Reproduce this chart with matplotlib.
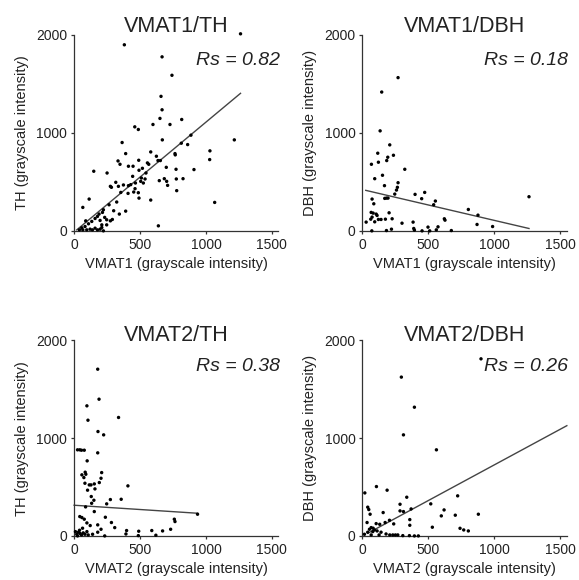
import matplotlib
matplotlib.use("Agg")
import matplotlib.pyplot as plt

plt.rcParams['font.family'] = ['Liberation Sans', 'DejaVu Sans']

# VMAT1 vs TH
vmat1_th_x = [1262, 381, 667, 742, 659, 667, 651, 816, 460, 487, 598, 727, 1215, 669, 886,
              364, 861, 813, 391, 581, 1030, 1028, 765, 767, 333, 348, 490, 624, 636, 654,
              556, 566, 447, 412, 518, 699, 773, 909, 149, 250, 444, 316, 275, 283, 336,
              374, 412, 429, 465, 505, 525, 538, 545, 510, 492, 646, 684, 702, 709, 775,
              826, 778, 581, 1066, 639, 409, 452, 462, 487, 492, 354, 323, 391, 343, 300,
              265, 114, 66, 222, 215, 189, 177, 232, 247, 275, 290, 197, 159, 134, 109,
              88, 83, 58, 40, 121, 139, 159, 177, 197, 210, 222, 96, 247, 210, 66]
vmat1_th_y = [2010, 1898, 1775, 1587, 1372, 1235, 1147, 1136, 1061, 1034, 1085, 1085, 928, 928, 976,
              901, 880, 894, 788, 805, 816, 727, 788, 775, 713, 679, 720, 761, 717, 717,
              693, 679, 659, 659, 638, 648, 628, 625, 608, 590, 556, 495, 454, 444, 454,
              468, 461, 471, 488, 505, 488, 529, 590, 539, 618, 512, 532, 505, 464, 529,
              532, 410, 314, 290, 51, 382, 396, 430, 389, 334, 392, 294, 201, 171, 205,
              266, 324, 239, 215, 188, 171, 147, 137, 113, 102, 116, 106, 126, 96, 72,
              102, 44, 31, 10, 17, 10, 27, 10, 17, 34, 0, 10, 61, 61, 10]
vmat1_th_fit_x = [20, 1262]
vmat1_th_fit_y = [10, 1403]

# VMAT1 vs DBH
vmat1_dbh_x = [270, 146, 134, 207, 116, 235, 192, 184, 121, 68, 321, 152, 93, 167, 270,
               265, 258, 245, 399, 472, 449, 553, 540, 182, 169, 194, 73, 86, 803, 876,
               1263, 621, 626, 869, 987, 66, 81, 104, 111, 73, 63, 93, 121, 141, 174,
               202, 225, 28, 300, 384, 389, 394, 452, 497, 510, 560, 573, 674, 71, 182, 220]
vmat1_dbh_y = [1563, 1416, 1020, 877, 792, 771, 751, 717, 700, 679, 628, 567, 532, 461, 491,
               444, 416, 375, 372, 392, 328, 304, 266, 334, 331, 334, 324, 276, 218, 160,
               348, 123, 109, 65, 44, 188, 181, 171, 157, 140, 119, 92, 116, 116, 119,
               184, 123, 89, 78, 89, 24, 7, 0, 38, 0, 10, 41, 3, 0, 3, 17]
vmat1_dbh_fit_x = [25, 1263]
vmat1_dbh_fit_y = [413, 24]

# VMAT2 vs TH
vmat2_th_x = [179, 189, 97, 105, 337, 181, 224, 179, 26, 43, 56, 77, 99, 59, 84,
              89, 74, 209, 204, 191, 153, 115, 128, 82, 102, 158, 130, 150, 275, 357,
              247, 133, 408, 87, 153, 936, 760, 765, 43, 59, 77, 237, 283, 308, 179,
              204, 122, 97, 398, 393, 490, 487, 589, 620, 671, 732, 232, 179,
              20, 33, 46, 56, 69, 82, 41, 64, 97, 26, 107, 140, 10]
vmat2_th_y = [1706, 1399, 1331, 1184, 1212, 1068, 1034, 850, 881, 881, 877, 877, 768, 625, 652,
              631, 597, 648, 590, 546, 532, 522, 522, 539, 468, 481, 403, 365, 372, 375,
              328, 334, 512, 297, 249, 222, 171, 147, 198, 188, 171, 191, 137, 85, 113,
              68, 106, 133, 55, 20, 48, 3, 55, 7, 51, 68, 0, 38,
              17, 38, 24, 10, 31, 17, 58, 79, 44, 0, 10, 17, 44]
vmat2_th_fit_x = [0, 936]
vmat2_th_fit_y = [314, 232]

# VMAT2 vs DBH
vmat2_dbh_x = [899, 295, 394, 311, 561, 106, 187, 18, 722, 336, 518, 285, 40, 48, 58,
               157, 285, 311, 369, 619, 598, 704, 879, 359, 359, 530, 740, 768, 803, 205,
               237, 172, 131, 104, 35, 66, 53, 81, 91, 111, 78, 141, 40, 15, 179,
               207, 230, 250, 268, 306, 356, 394, 424, 126, 66]
vmat2_dbh_y = [1812, 1625, 1317, 1034, 881, 505, 468, 440, 410, 396, 328, 324, 294, 270, 222,
               239, 256, 249, 276, 266, 205, 212, 222, 167, 109, 89, 78, 61, 51, 160,
               123, 137, 119, 126, 137, 85, 68, 79, 61, 51, 44, 38, 38, 17, 20,
               10, 10, 10, 10, 3, 3, 0, 0, 10, 10]
vmat2_dbh_fit_x = [40, 1550]
vmat2_dbh_fit_y = [27, 1128]

panels = [
    ("VMAT1/TH", "Rs = 0.82", "VMAT1", "TH", vmat1_th_x, vmat1_th_y, vmat1_th_fit_x, vmat1_th_fit_y),
    ("VMAT1/DBH", "Rs = 0.18", "VMAT1", "DBH", vmat1_dbh_x, vmat1_dbh_y, vmat1_dbh_fit_x, vmat1_dbh_fit_y),
    ("VMAT2/TH", "Rs = 0.38", "VMAT2", "TH", vmat2_th_x, vmat2_th_y, vmat2_th_fit_x, vmat2_th_fit_y),
    ("VMAT2/DBH", "Rs = 0.26", "VMAT2", "DBH", vmat2_dbh_x, vmat2_dbh_y, vmat2_dbh_fit_x, vmat2_dbh_fit_y),
]

# axes boxes in figure fractions [left, bottom, width, height]
boxes = [[0.128, 0.602, 0.353, 0.338], [0.626, 0.602, 0.353, 0.338],
         [0.128, 0.076, 0.353, 0.337], [0.626, 0.076, 0.353, 0.337]]
title_y = [1.015, 1.015, 0.998, 0.998]

txt = '#222222'
fig = plt.figure(figsize=(5.79, 5.80), dpi=100)

for i, (title, rs, xname, yname, xs, ys, fx, fy) in enumerate(panels):
    ax = fig.add_axes(boxes[i])
    ax.scatter(xs, ys, s=6, color='black', edgecolors='none', clip_on=False, zorder=3)
    ax.plot(fx, fy, color='#444444', lw=1.0, clip_on=False)
    ax.set_xlim(0, 1550)
    ax.set_ylim(0, 2000)
    ax.set_xticks([0, 500, 1000, 1500])
    ax.set_yticks([0, 1000, 2000])
    for s in ['top', 'right']:
        ax.spines[s].set_visible(False)
    for s in ['left', 'bottom']:
        ax.spines[s].set_linewidth(0.9)
        ax.spines[s].set_color('#333333')
    ax.tick_params(length=2.5, width=0.9, pad=2.5, labelsize=10, colors='#333333', labelcolor=txt)
    ax.set_xlabel(f"{xname} (grayscale intensity)", fontsize=10.5, color=txt, labelpad=4)
    ax.set_ylabel(f"{yname} (grayscale intensity)", fontsize=10.5, color=txt, labelpad=5)
    ax.text(0.5, title_y[i], title, transform=ax.transAxes, ha='center', va='baseline',
            fontsize=15.5, color=txt)
    ax.text(1.005, 0.868, rs, transform=ax.transAxes, ha='right', va='center',
            fontsize=14, style='italic', color=txt)

fig.savefig("out.png", dpi=100)
